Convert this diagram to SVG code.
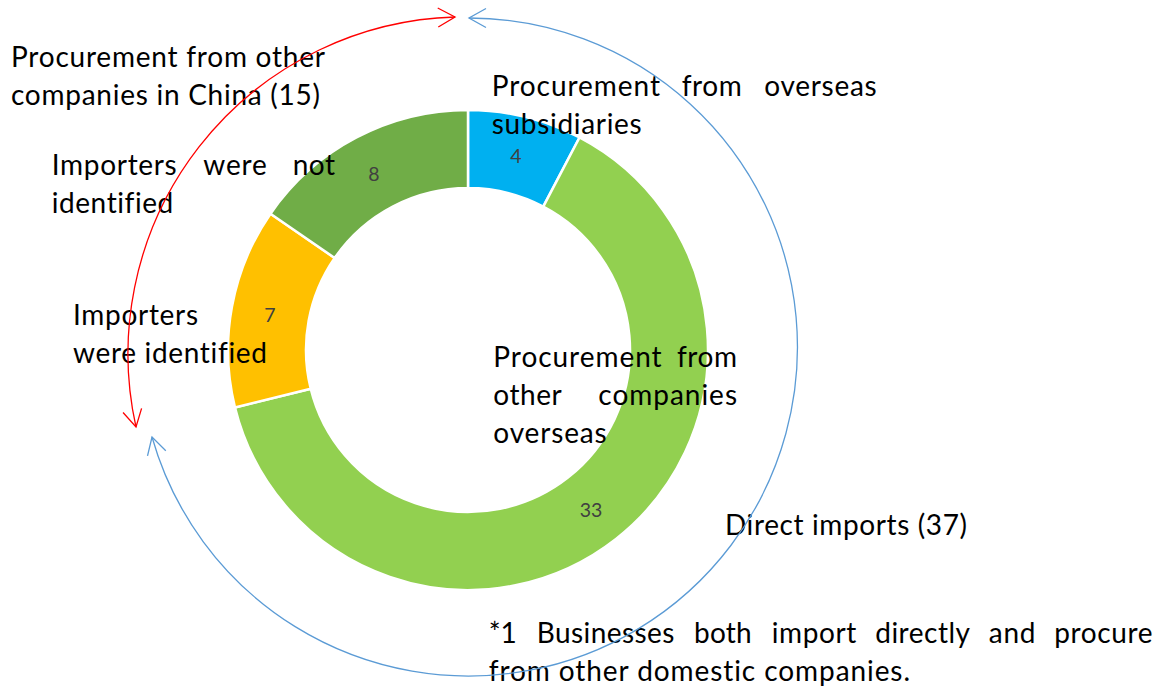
<svg xmlns="http://www.w3.org/2000/svg" width="1162" height="688" viewBox="0 0 1162 688">
<style>
text{font-variant-ligatures:none}
.lbl{font-family:"Lato","Liberation Sans",sans-serif;font-size:28px;fill:#000}
.num{font-family:"Lato","Liberation Sans",sans-serif;font-size:19.5px;fill:#404040;text-anchor:middle}
.seg{stroke:#fff;stroke-width:2.5;stroke-linejoin:miter}
.red{fill:none;stroke:#FF0000;stroke-width:1.3}
.blue{fill:none;stroke:#5B9BD5;stroke-width:1.3}
</style>
<defs>
<marker id="arrR" markerUnits="userSpaceOnUse" markerWidth="22" markerHeight="24" viewBox="0 0 22 24" refX="19" refY="12" orient="auto-start-reverse">
<path d="M2,2.5 L19,12 L2,21.5" fill="none" stroke="#FF0000" stroke-width="1.3"/>
</marker>
<marker id="arrB" markerUnits="userSpaceOnUse" markerWidth="22" markerHeight="24" viewBox="0 0 22 24" refX="19" refY="12" orient="auto-start-reverse">
<path d="M2,2.5 L19,12 L2,21.5" fill="none" stroke="#5B9BD5" stroke-width="1.3"/>
</marker>
</defs>
<rect width="1162" height="688" fill="#fff"/>

<g id="donut">
<path id="seg-overseas-subsidiaries" class="seg" fill="#00B0F0" d="M468,110 A240,240 0 0 1 579.53,137.49 L543.28,206.56 A162,162 0 0 0 468,188 Z"/>
<path id="seg-other-overseas" class="seg" fill="#92D050" d="M579.53,137.49 A240,240 0 1 1 234.97,407.44 L310.71,388.77 A162,162 0 1 0 543.28,206.56 Z"/>
<path id="seg-importers-identified" class="seg" fill="#FFC000" d="M234.97,407.44 A240,240 0 0 1 270.48,213.67 L334.68,257.97 A162,162 0 0 0 310.71,388.77 Z"/>
<path id="seg-importers-not-identified" class="seg" fill="#70AD47" d="M270.48,213.67 A240,240 0 0 1 468,110 L468,188 A162,162 0 0 0 334.68,257.97 Z"/>
<text class="num" x="516" y="163">4</text>
<text class="num" x="591" y="517">33</text>
<text class="num" x="270" y="322">7</text>
<text class="num" x="374" y="181">8</text>
</g>

<g id="label-china">
<text class="lbl" x="11" y="67" textLength="314" lengthAdjust="spacing">Procurement from other</text>
<text class="lbl" x="11" y="105" textLength="309" lengthAdjust="spacing">companies in China (15)</text>
</g>
<g id="label-not-identified">
<text class="lbl" x="51.7" y="175" textLength="125" lengthAdjust="spacing">Importers</text>
<text class="lbl" x="203.3" y="175" textLength="63.4" lengthAdjust="spacing">were</text>
<text class="lbl" x="292.7" y="175" textLength="42.3" lengthAdjust="spacing">not</text>
<text class="lbl" x="51.7" y="213" textLength="121.6" lengthAdjust="spacing">identified</text>
</g>
<g id="label-identified">
<text class="lbl" x="73" y="325" textLength="125" lengthAdjust="spacing">Importers</text>
<text class="lbl" x="73" y="363" textLength="194" lengthAdjust="spacing">were identified</text>
</g>
<g id="label-subsidiaries">
<text class="lbl" x="491.7" y="96" textLength="168.3" lengthAdjust="spacing">Procurement</text>
<text class="lbl" x="681.7" y="96" textLength="60" lengthAdjust="spacing">from</text>
<text class="lbl" x="764.3" y="96" textLength="112.4" lengthAdjust="spacing">overseas</text>
<text class="lbl" x="491.7" y="134" textLength="150" lengthAdjust="spacing">subsidiaries</text>
</g>
<g id="label-other-overseas">
<text class="lbl" x="493.3" y="367" textLength="168.3" lengthAdjust="spacing">Procurement</text>
<text class="lbl" x="677" y="367" textLength="60" lengthAdjust="spacing">from</text>
<text class="lbl" x="493.3" y="405" textLength="68.4" lengthAdjust="spacing">other</text>
<text class="lbl" x="598.3" y="405" textLength="138.7" lengthAdjust="spacing">companies</text>
<text class="lbl" x="493.3" y="443" textLength="113.4" lengthAdjust="spacing">overseas</text>
</g>
<g id="label-direct">
<text class="lbl" x="725" y="535" textLength="242" lengthAdjust="spacing">Direct imports (37)</text>
</g>
<g id="footnote">
<text class="lbl" x="488.7" y="643">*1</text>
<text class="lbl" x="536.8" y="643" textLength="137.5" lengthAdjust="spacing">Businesses</text>
<text class="lbl" x="694" y="643" textLength="57.6" lengthAdjust="spacing">both</text>
<text class="lbl" x="771.7" y="643" textLength="84.7" lengthAdjust="spacing">import</text>
<text class="lbl" x="875.2" y="643" textLength="94.8" lengthAdjust="spacing">directly</text>
<text class="lbl" x="988.7" y="643" textLength="46.8" lengthAdjust="spacing">and</text>
<text class="lbl" x="1054.2" y="643" textLength="98.3" lengthAdjust="spacing">procure</text>
<text class="lbl" x="488.7" y="681" textLength="421.3" lengthAdjust="spacing">from other domestic companies.</text>
</g>

<g id="connectors">
<path id="arc-china" class="red" d="M455,17 A337,337 0 0 0 136,427" marker-start="url(#arrR)" marker-end="url(#arrR)"/>
<path id="arc-direct" class="blue" d="M469,18 A329,329 0 1 1 152,437" marker-start="url(#arrB)" marker-end="url(#arrB)"/>
</g>
</svg>
